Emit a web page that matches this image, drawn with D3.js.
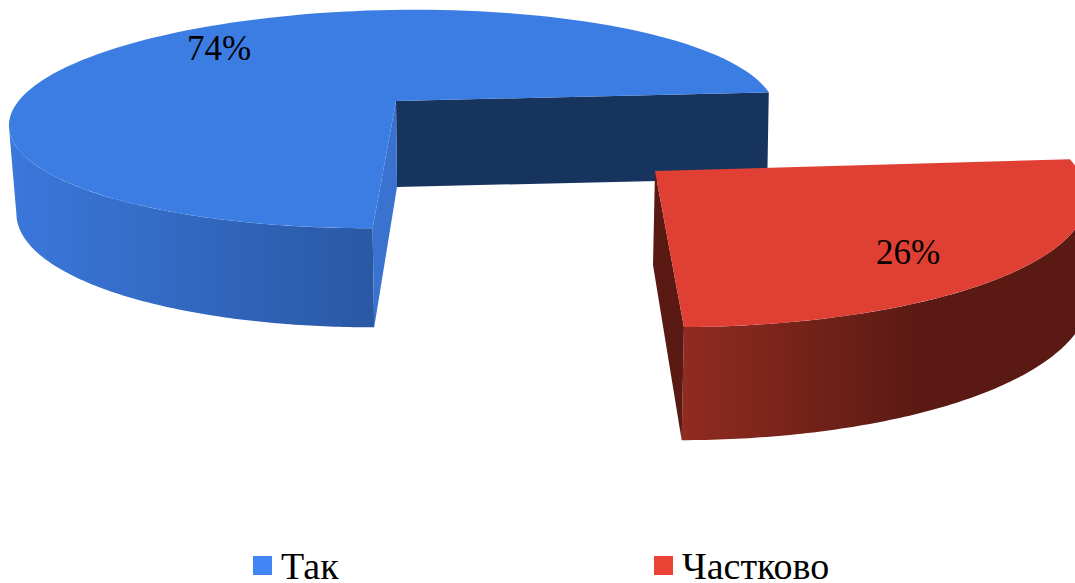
<!DOCTYPE html>
<html>
<head>
<meta charset="utf-8">
<script src="https://d3js.org/d3.v7.min.js"></script>
<style>
html, body { margin: 0; padding: 0; background: #fff; }
svg { display: block; }
text { font-family: "Liberation Serif", serif; fill: #000; }
</style>
</head>
<body>
<div id="chart"></div>
<script>
// Data
const categories = ['Так', 'Частково'];
const values = [74, 26];
const labels = ['74%', '26%'];

const width = 1075;
const height = 583;
const legendColors = ['#4285f4', '#ea4335'];
const rotation = 183 * Math.PI / 180;
const perspective = 0.165;

// Each exploded slice has its own top and bottom rim, as the 3D view skews them differently
const views = [
    {
        top: { cx: 396, cy: 101, ox: 391.5, f: 378, g: 106, shearX: 4, shearY: -0.02 },
        bottom: { cx: 397, cy: 187, ox: 394.6, f: 373.4, g: 117, shearX: 2.5, shearY: -0.02 },
        topColor: '#3c7de4', wallFrom: '#3b78dc', wallTo: '#2a58a4',
        wallX: [8, 374], innerColor: '#17345f', cutColor: '#3a72cf',
        labelX: 219, labelY: 60
    },
    {
        top: { cx: 655, cy: 171, ox: 655, f: 416, g: 130, shearX: 46, shearY: -0.025 },
        bottom: { cx: 653, cy: 265, ox: 653, f: 420, g: 146, shearX: 46, shearY: -0.025 },
        topColor: '#e04033', wallFrom: '#902b21', wallTo: '#5a1a13',
        wallX: [684, 920], innerColor: '#5a1a13', cutColor: '#5a1a13',
        labelX: 908, labelY: 264
    }
];

const svg = d3.select('#chart')
    .append('svg')
    .attr('width', width)
    .attr('height', height);

const pie = d3.pie()
    .sort(null)
    .startAngle(rotation)
    .endAngle(rotation + 2 * Math.PI);
const arcs = pie(values);

// Angle is clockwise from the top of the disc
function project(p, angle) {
    const u = Math.sin(angle);
    const v = -Math.cos(angle);
    const w = 1 - perspective * v;
    return [
        p.ox + (p.f * u + p.shearX * v) / w,
        p.cy + (p.g * v + p.shearY * p.f * u) / w
    ];
}

function rim(p, a0, a1) {
    return d3.range(0, 121).map(i => project(p, a0 + (a1 - a0) * i / 120));
}

const line = d3.line();
const defs = svg.append('defs');

// The outer wall runs only between the disc's silhouette points
const leftSilhouette = 260.5 * Math.PI / 180;
const rightSilhouette = (360 + 99.5) * Math.PI / 180;

views.forEach((view, i) => {
    const a0 = arcs[i].startAngle;
    const a1 = arcs[i].endAngle;
    const g = svg.append('g');

    const grad = defs.append('linearGradient')
        .attr('id', 'wall' + i)
        .attr('gradientUnits', 'userSpaceOnUse')
        .attr('x1', view.wallX[0])
        .attr('x2', view.wallX[1])
        .attr('y1', 0)
        .attr('y2', 0);
    grad.append('stop').attr('offset', 0).attr('stop-color', view.wallFrom);
    grad.append('stop').attr('offset', 1).attr('stop-color', view.wallTo);

    const topCentre = [view.top.cx, view.top.cy];
    const bottomCentre = [view.bottom.cx, view.bottom.cy];

    if (i === 0) {
        // back wall seen through the gap
        const pEnd = project(view.top, a1);
        const pEndLow = project(view.bottom, a1);
        g.append('path')
            .attr('d', line([topCentre, pEnd, pEndLow, bottomCentre]) + 'Z')
            .attr('fill', view.innerColor);

        const upper = rim(view.top, a0, leftSilhouette);
        const lower = rim(view.bottom, a0, leftSilhouette).reverse();
        g.append('path')
            .attr('d', line(upper.concat(lower)) + 'Z')
            .attr('fill', 'url(#wall0)');
    } else {
        const upper = rim(view.top, rightSilhouette, a1);
        const lower = rim(view.bottom, rightSilhouette, a1).reverse();
        g.append('path')
            .attr('d', line(upper.concat(lower)) + 'Z')
            .attr('fill', 'url(#wall1)');
    }

    // cut face at the front edge
    const cutAngle = i === 0 ? a0 : a1;
    g.append('path')
        .attr('d', line([topCentre, project(view.top, cutAngle), project(view.bottom, cutAngle), bottomCentre]) + 'Z')
        .attr('fill', view.cutColor);

    // top face
    g.append('path')
        .attr('d', line([topCentre].concat(rim(view.top, a0, a1))) + 'Z')
        .attr('fill', view.topColor);

    svg.append('text')
        .attr('x', view.labelX)
        .attr('y', view.labelY)
        .attr('text-anchor', 'middle')
        .attr('font-size', 35)
        .text(labels[i]);
});

// Legend
const legendX = d3.scalePoint().domain(categories).range([253, 654]);
const legend = svg.selectAll('.legend')
    .data(categories)
    .enter()
    .append('g')
    .attr('class', 'legend')
    .attr('transform', d => `translate(${legendX(d)},0)`);

legend.append('rect')
    .attr('x', 0)
    .attr('y', 556)
    .attr('width', 19)
    .attr('height', 19)
    .attr('fill', (d, i) => legendColors[i]);

legend.append('text')
    .attr('x', 28)
    .attr('y', 579)
    .attr('font-size', 38)
    .text(d => d);
</script>
</body>
</html>
